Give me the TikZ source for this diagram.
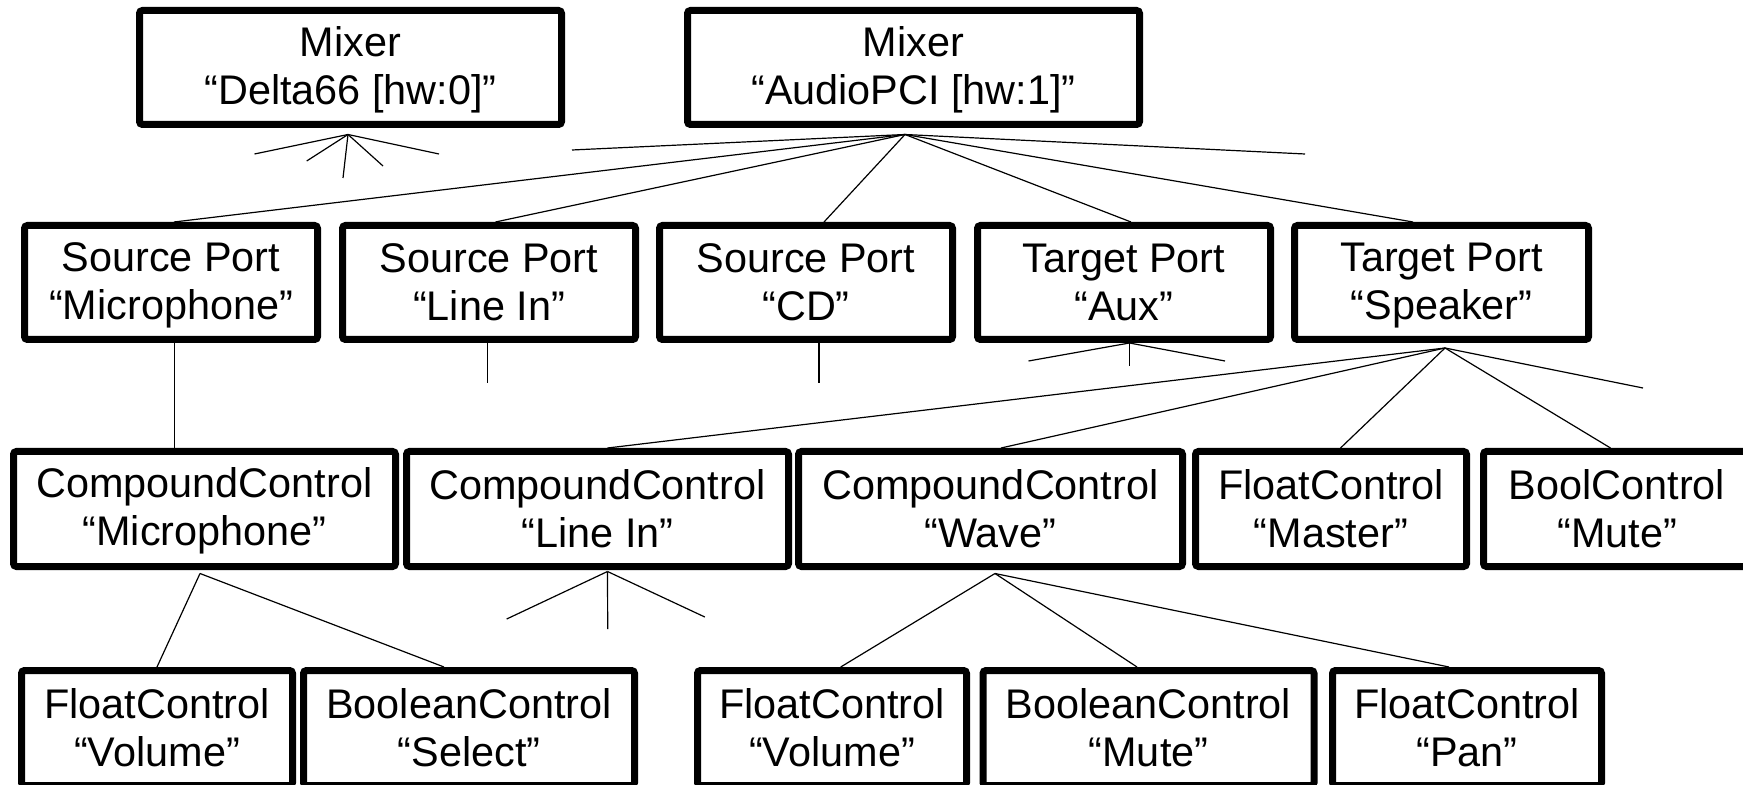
\documentclass[tikz,border=0pt]{standalone}
\usepackage{fontspec}
\setmainfont{Liberation Sans}
\usetikzlibrary{calc}
\newcommand\lnstrut{\rule[-3pt]{0pt}{20pt}}
\begin{document}
\begin{tikzpicture}[x=0.5pt,y=-0.5pt,
  box/.style={draw, line width=3.5pt, fill=white, rounded corners=1.5pt, align=center,
    inner sep=0pt, font=\fontsize{20.7}{24}\selectfont},
  wire/.style={line width=0.6pt}]
\useasboundingbox (0,0) rectangle (1743,785);
\clip (0,0) rectangle (1743,785);
% row 1
\node[box, minimum width=211pt, minimum height=57pt] (mixA) at (350.5,67.5) {\lnstrut Mixer\\\lnstrut “Delta66 [hw:0]”};
\node[box, minimum width=226pt, minimum height=57pt] (mixB) at (913.5,67.5) {\lnstrut Mixer\\\lnstrut “AudioPCI [hw:1]”};
% row 2
\node[box, minimum width=146.5pt, minimum height=57pt] (spMic) at (171,282.5) {\lnstrut Source Port\\\lnstrut “Microphone”};
\node[box, minimum width=146.5pt, minimum height=57pt] (spLine) at (489,282.5) {\lnstrut Source Port\\\lnstrut “Line In”};
\node[box, minimum width=146.5pt, minimum height=57pt] (spCD) at (806,282.5) {\lnstrut Source Port\\\lnstrut “CD”};
\node[box, minimum width=146.5pt, minimum height=57pt] (tpAux) at (1124,282.5) {\lnstrut Target Port\\\lnstrut “Aux”};
\node[box, minimum width=147pt, minimum height=57pt] (tpSpk) at (1441.5,282.5) {\lnstrut Target Port\\\lnstrut “Speaker”};
% row 3
\node[box, minimum width=191pt, minimum height=57.5pt] (ccMic) at (204.5,509) {\lnstrut CompoundControl\\\lnstrut “Microphone”};
\node[box, minimum width=191pt, minimum height=57.5pt] (ccLine) at (597.5,509) {\lnstrut CompoundControl\\\lnstrut “Line In”};
\node[box, minimum width=192pt, minimum height=57.5pt] (ccWave) at (990.5,509) {\lnstrut CompoundControl\\\lnstrut “Wave”};
\node[box, minimum width=135.5pt, minimum height=57.5pt] (fcMaster) at (1331,509) {\lnstrut FloatControl\\\lnstrut “Master”};
\node[box, minimum width=133.5pt, minimum height=57.5pt] (bcMute) at (1617,509) {\lnstrut BoolControl\\\lnstrut “Mute”};
% row 4
\node[box, minimum width=135.5pt, minimum height=57.5pt] (fcVolA) at (157,728) {\lnstrut FloatControl\\\lnstrut “Volume”};
\node[box, minimum width=165.5pt, minimum height=57.5pt] (bcSelect) at (469,728) {\lnstrut BooleanControl\\\lnstrut “Select”};
\node[box, minimum width=134.5pt, minimum height=57.5pt] (fcVolB) at (832,728) {\lnstrut FloatControl\\\lnstrut “Volume”};
\node[box, minimum width=165.5pt, minimum height=57.5pt] (bcMuteW) at (1148.5,728) {\lnstrut BooleanControl\\\lnstrut “Mute”};
\node[box, minimum width=134.5pt, minimum height=57.5pt] (fcPan) at (1467,728) {\lnstrut FloatControl\\\lnstrut “Pan”};
% free ends
\coordinate (a1) at (254.5,154);
\coordinate (a2) at (306.7,161);
\coordinate (a3) at (343,178);
\coordinate (a4) at (383,166);
\coordinate (a5) at (439,154);
\coordinate (b1) at (572,150);
\coordinate (b2) at (1305,154);
\coordinate (c1) at (487.5,383);
\coordinate (d1) at (819,383);
\coordinate (e1) at (1028.5,361);
\coordinate (e2) at (1129.5,366);
\coordinate (e3) at (1225,361);
\coordinate (f1) at (1643,388);
\coordinate (g1) at (506.7,619);
\coordinate (g2) at (607.7,629);
\coordinate (g3) at (704.8,617);
% origins
\coordinate (oA) at ($(mixA.south)+(-2.5,6.5)$);
\coordinate (oB) at ($(mixB.south)+(-8.5,6.5)$);
\coordinate (oAux) at ($(tpAux.south)+(5.5,0)$);
\coordinate (oSpk) at ($(tpSpk.south)+(3.5,5)$);
\coordinate (oMic) at ($(ccMic.south)+(-4.5,3.5)$);
\coordinate (oLine) at ($(ccLine.south)+(10,1.5)$);
\coordinate (oWave) at ($(ccWave.south)+(4.5,3.5)$);
% connectors
\foreach \t in {a1,a2,a3,a4,a5} \draw[wire] (oA) -- (\t);
\draw[wire] (oB) -- (b1);
\draw[wire] (oB) -- ($(spMic.north)+(3,0)$);
\draw[wire] (oB) -- ($(spLine.north)+(6.5,0)$);
\draw[wire] (oB) -- ($(spCD.north)+(18,0)$);
\draw[wire] (oB) -- ($(tpAux.north)+(7,0)$);
\draw[wire] (oB) -- ($(tpSpk.north)+(-28.5,0)$);
\draw[wire] (oB) -- (b2);
\draw[wire] ($(spMic.south)+(3.5,0)$) -- ($(ccMic.north)+(-30,0)$);
\draw[wire] ($(spLine.south)+(-1.5,0)$) -- (c1);
\draw[wire] ($(spCD.south)+(13,0)$) -- (d1);
\foreach \t in {e1,e2,e3} \draw[wire] (oAux) -- (\t);
\draw[wire] (oSpk) -- ($(ccLine.north)+(10,0)$);
\draw[wire] (oSpk) -- ($(ccWave.north)+(10.5,0)$);
\draw[wire] (oSpk) -- ($(fcMaster.north)+(9.5,0)$);
\draw[wire] (oSpk) -- ($(bcMute.north)+(-6.5,0)$);
\draw[wire] (oSpk) -- (f1);
\draw[wire] (oMic) -- (fcVolA.north);
\draw[wire] (oMic) -- ($(bcSelect.north)+(-25,0)$);
\foreach \t in {g1,g2,g3} \draw[wire] (oLine) -- (\t);
\draw[wire] (oWave) -- ($(fcVolB.north)+(8.7,0)$);
\draw[wire] (oWave) -- ($(bcMuteW.north)+(-11.5,0)$);
\draw[wire] (oWave) -- ($(fcPan.north)+(-18,0)$);
\end{tikzpicture}
\end{document}
